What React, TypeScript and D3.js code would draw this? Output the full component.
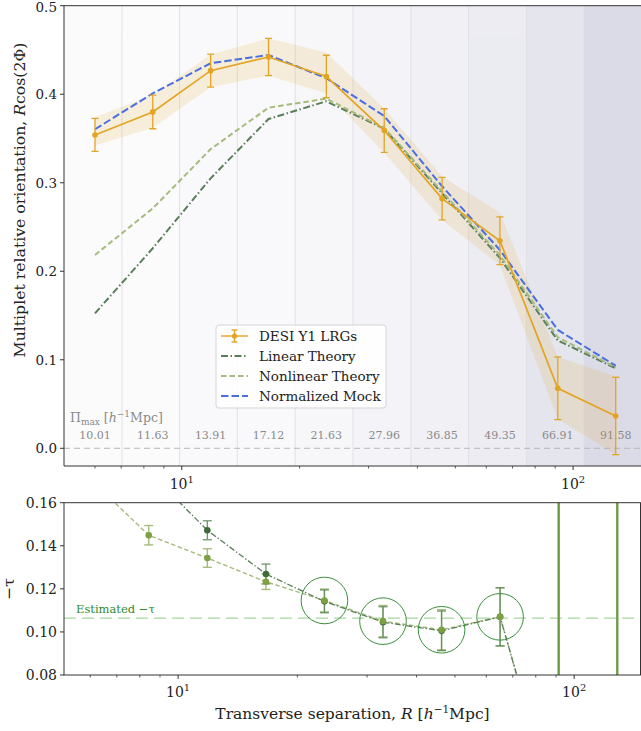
import React from 'react';
import * as d3 from 'd3';

// ---------- data ----------
const R = [6.0, 8.43, 11.85, 16.66, 23.41, 32.91, 46.26, 65.01, 91.39, 128.5];
const binEdges = [5, 7.03, 9.87, 13.87, 19.49, 27.39, 38.49, 54.08, 75.99, 106.76, 150];
const piMaxLabels = ['10.01', '11.63', '13.91', '17.12', '21.63', '27.96', '36.85', '49.35', '66.91', '91.58'];

const desi = [0.354, 0.380, 0.4266, 0.442, 0.420, 0.359, 0.282, 0.2345, 0.0678, 0.0365];
const desiErr = [0.0186, 0.019, 0.0186, 0.021, 0.024, 0.0246, 0.024, 0.027, 0.0354, 0.0437];
const bandLo = [0.342, 0.362, 0.408, 0.421, 0.401, 0.334, 0.258, 0.207, 0.033, -0.007];
const bandHi = [0.374, 0.399, 0.445, 0.463, 0.447, 0.384, 0.307, 0.266, 0.103, 0.081];
const linearTheory = [0.1525, 0.226, 0.305, 0.372, 0.392, 0.361, 0.288, 0.215, 0.1218, 0.0904];
const nonlinearTheory = [0.2184, 0.271, 0.338, 0.3848, 0.395, 0.362, 0.290, 0.218, 0.1254, 0.0915];
const normalizedMock = [0.3604, 0.401, 0.435, 0.4443, 0.418, 0.3754, 0.296, 0.224, 0.1337, 0.0933];

const tauLinear = [0.21, 0.1745, 0.1472, 0.1269, 0.1142, 0.1045, 0.1005, 0.107, 0.012, 0.012];
const tauLinearErr = [0.005, 0.005, 0.0044, 0.0046, 0.0053, 0.0072, 0.0092, 0.0135, 0.3, 0.3];
const tauNonlinear = [0.1709, 0.1449, 0.1343, 0.1233, 0.1146, 0.105, 0.101, 0.107, 0.012, 0.012];
const tauNonlinearErr = [0.005, 0.0045, 0.0043, 0.0036, 0.0053, 0.0073, 0.0093, 0.0135, 0.3, 0.3];
const circledBins = [4, 5, 6, 7];
const estimatedTau = 0.1064;

const topYTicks = [0.0, 0.1, 0.2, 0.3, 0.4, 0.5];
const botYTicks = [0.08, 0.10, 0.12, 0.14, 0.16];
const minorX = [6, 7, 8, 9, 20, 30, 40, 50, 60, 70, 80, 90];
const majorX = [10, 100];

// ---------- colors ----------
const C_DESI = '#e3a424';
const C_LIN = '#5a7e5a';
const C_NONLIN = '#a6bb7d';
const C_MOCK = '#4a6fdf';
const C_BAND = '#5c5c94';
const C_TLIN = '#3f6b3b';
const C_TNON = '#7da042';
const C_CIRCLE = '#3d8f3d';

const FONT = 'DejaVu Serif, serif';

export default function App() {
  const W = 641, H = 731;
  const L = 64, Rt = 641;
  const topT = 5.7, topB = 466;
  const botT = 502.7, botB = 675;

  const xT = d3.scaleLog().domain([5, 150]).range([L, 642]);
  const yT = d3.scaleLinear().domain([-0.02, 0.5]).range([topB, topT]);
  const xB = d3.scaleLog().domain([5.15, 147.5]).range([L, Rt]);
  const yB = d3.scaleLinear().domain([0.08, 0.16]).range([botB, botT]);

  const lineT = (vals: number[]) =>
    d3.line<number>().x((_, i) => xT(R[i])).y((v) => yT(v))(vals) as string;
  const lineB = (vals: number[]) =>
    d3.line<number>().x((_, i) => xB(R[i])).y((v) => yB(v))(vals) as string;
  const bandPath = d3
    .area<number>()
    .x((_, i) => xT(R[i]))
    .y0((_, i) => yT(bandLo[i]))
    .y1((_, i) => yT(bandHi[i]))(R) as string;

  const maxPi = d3.max(piMaxLabels.map(Number)) as number;

  return (
    <svg
      width={W}
      height={H}
      style={{ position: 'absolute', left: 0, top: 0, background: '#fff' }}
      fontFamily={FONT}
    >
      <defs>
        <clipPath id="clipTop">
          <rect x={L} y={topT} width={Rt - L} height={topB - topT} />
        </clipPath>
        <clipPath id="clipBot">
          <rect x={L} y={botT} width={Rt - L} height={botB - botT} />
        </clipPath>
      </defs>

      {/* ---------- TOP PANEL ---------- */}
      <g clipPath="url(#clipTop)">
        {piMaxLabels.map((p, i) => (
          <rect
            key={'bg' + i}
            x={xT(binEdges[i])}
            y={topT}
            width={xT(binEdges[i + 1]) - xT(binEdges[i])}
            height={topB - topT}
            fill={C_BAND}
            opacity={(0.22 * Number(p)) / maxPi}
          />
        ))}
        {binEdges.slice(1, -1).map((e, i) => (
          <line key={'g' + i} x1={xT(e)} x2={xT(e)} y1={topT} y2={topB} stroke="#dcdce2" strokeWidth={0.8} />
        ))}
        <line x1={L} x2={Rt} y1={yT(0)} y2={yT(0)} stroke="#b0b0b0" strokeWidth={0.9} strokeDasharray="6,4" />
        {piMaxLabels.map((p, i) => (
          <text key={'pm' + i} x={xT(R[i])} y={yT(0) - 9} fontSize={11} fill="#8a8a8a" textAnchor="middle">
            {p}
          </text>
        ))}
        <text x={70} y={yT(0) - 26} fontSize={12.5} fill="#8a8a8a">
          Π<tspan fontSize={9} dy={3}>max</tspan>
          <tspan dy={-3}> [</tspan>
          <tspan fontStyle="italic">h</tspan>
          <tspan fontSize={9} dy={-5}>−1</tspan>
          <tspan dy={5}>Mpc]</tspan>
        </text>

        <path d={bandPath} fill={C_DESI} opacity={0.15} stroke={C_DESI} strokeOpacity={0.12} />
        <path d={lineT(linearTheory)} fill="none" stroke={C_LIN} strokeWidth={2} strokeDasharray="7,2.5,1.5,2.5" />
        <path d={lineT(nonlinearTheory)} fill="none" stroke={C_NONLIN} strokeWidth={2} strokeDasharray="5.5,3" />
        <path d={lineT(normalizedMock)} fill="none" stroke={C_MOCK} strokeWidth={2} strokeDasharray="7.5,3" />
        <path d={lineT(desi)} fill="none" stroke={C_DESI} strokeWidth={1.7} />
        {desi.map((v, i) => {
          const x = xT(R[i]);
          const y1 = yT(v - desiErr[i]);
          const y2 = yT(v + desiErr[i]);
          return (
            <g key={'d' + i} stroke={C_DESI} strokeWidth={1.3}>
              <line x1={x} x2={x} y1={y1} y2={y2} />
              <line x1={x - 3.5} x2={x + 3.5} y1={y1} y2={y1} />
              <line x1={x - 3.5} x2={x + 3.5} y1={y2} y2={y2} />
              <circle cx={x} cy={yT(v)} r={2.8} fill={C_DESI} stroke="none" />
            </g>
          );
        })}
      </g>

      {/* legend */}
      <g>
        <rect x={216} y={325} width={170} height={83} rx={3} fill="#fff" fillOpacity={0.85} stroke="#d0d0d0" strokeWidth={0.9} />
        <g stroke={C_DESI} strokeWidth={1.4}>
          <line x1={221} x2={248} y1={336} y2={336} />
          <line x1={234.5} x2={234.5} y1={330} y2={342} />
          <line x1={231.5} x2={237.5} y1={330} y2={330} />
          <line x1={231.5} x2={237.5} y1={342} y2={342} />
          <circle cx={234.5} cy={336} r={2.6} fill={C_DESI} stroke="none" />
        </g>
        <line x1={221} x2={248} y1={356} y2={356} stroke={C_LIN} strokeWidth={2} strokeDasharray="7,2.5,1.5,2.5" />
        <line x1={221} x2={248} y1={376} y2={376} stroke={C_NONLIN} strokeWidth={2} strokeDasharray="5.5,3" />
        <line x1={221} x2={248} y1={396} y2={396} stroke={C_MOCK} strokeWidth={2} strokeDasharray="7.5,3" />
        {['DESI Y1 LRGs', 'Linear Theory', 'Nonlinear Theory', 'Normalized Mock'].map((t, i) => (
          <text key={'lg' + i} x={259} y={341 + i * 20} fontSize={13.5} fill="#222">
            {t}
          </text>
        ))}
      </g>

      {/* top axes frame */}
      <g stroke="#333" strokeWidth={1} fill="none">
        <line x1={L} x2={L} y1={topT} y2={topB} />
        <line x1={L} x2={Rt} y1={topT} y2={topT} />
        <line x1={L} x2={Rt} y1={topB} y2={topB} />
      </g>
      {topYTicks.map((t) => (
        <g key={'ty' + t}>
          <line x1={L - 4} x2={L} y1={yT(t)} y2={yT(t)} stroke="#333" />
          <text x={L - 7} y={Math.max(yT(t) + 4.8, 12)} fontSize={13.5} textAnchor="end" fill="#222">
            {t.toFixed(1)}
          </text>
        </g>
      ))}
      {minorX.map((t) => (
        <line key={'tmx' + t} x1={xT(t)} x2={xT(t)} y1={topB} y2={topB + 2.5} stroke="#333" strokeWidth={0.8} />
      ))}
      {majorX.map((t) => (
        <g key={'tMx' + t}>
          <line x1={xT(t)} x2={xT(t)} y1={topB} y2={topB + 4} stroke="#333" />
          <text x={xT(t)} y={489} fontSize={14} textAnchor="middle" fill="#222">
            10<tspan fontSize={10} dy={-6}>{Math.round(Math.log10(t))}</tspan>
          </text>
        </g>
      ))}
      <text
        transform={`translate(25,200) rotate(-90)`}
        fontSize={15.7}
        textAnchor="middle"
        fill="#222"
      >
        Multiplet relative orientation, <tspan fontStyle="italic">R</tspan>cos(2Φ)
      </text>

      {/* ---------- BOTTOM PANEL ---------- */}
      <g clipPath="url(#clipBot)">
        <line x1={L} x2={Rt} y1={yB(estimatedTau)} y2={yB(estimatedTau)} stroke="#a6d6a0" strokeWidth={1.3} strokeDasharray="12,6" />
        <path d={lineB(tauNonlinear)} fill="none" stroke={C_NONLIN} strokeWidth={1.4} strokeDasharray="4.5,2.5" />
        <path d={lineB(tauLinear)} fill="none" stroke={C_LIN} strokeWidth={1.3} strokeDasharray="6,2,1.5,2" />
        {tauNonlinear.map((v, i) => {
          const x = xB(R[i]);
          const y1 = yB(v - tauNonlinearErr[i]);
          const y2 = yB(v + tauNonlinearErr[i]);
          const big = tauNonlinearErr[i] > 0.1;
          return (
            <g key={'tn' + i} stroke={big ? '#6f9a45' : C_NONLIN} strokeWidth={big ? 2 : 1.4}>
              <line x1={x} x2={x} y1={y1} y2={y2} />
              <line x1={x - 4.5} x2={x + 4.5} y1={y1} y2={y1} />
              <line x1={x - 4.5} x2={x + 4.5} y1={y2} y2={y2} />
            </g>
          );
        })}
        {tauLinear.map((v, i) => {
          const x = xB(R[i]);
          const y1 = yB(v - tauLinearErr[i]);
          const y2 = yB(v + tauLinearErr[i]);
          const big = tauLinearErr[i] > 0.1;
          return (
            <g key={'tl' + i} stroke={big ? '#6f9a45' : '#5f8a5a'} strokeWidth={big ? 2 : 1.3} opacity={0.9}>
              <line x1={x} x2={x} y1={y1} y2={y2} />
              <line x1={x - 4.5} x2={x + 4.5} y1={y1} y2={y1} />
              <line x1={x - 4.5} x2={x + 4.5} y1={y2} y2={y2} />
            </g>
          );
        })}
        {tauLinear.map((v, i) => (
          <circle key={'tlc' + i} cx={xB(R[i])} cy={yB(v)} r={3.3} fill={C_TLIN} />
        ))}
        {tauNonlinear.map((v, i) => (
          <circle key={'tnc' + i} cx={xB(R[i])} cy={yB(v)} r={3.3} fill={C_TNON} />
        ))}
        {circledBins.map((b) => (
          <circle key={'cb' + b} cx={xB(R[b])} cy={yB(tauNonlinear[b])} r={23.3} fill="none" stroke={C_CIRCLE} strokeWidth={1} />
        ))}
        <text x={76} y={yB(estimatedTau) - 5} fontSize={11.5} fill="#2f8a2f">
          Estimated −τ
        </text>
      </g>
      <rect x={L} y={botT} width={Rt - L - 0.5} height={botB - botT} fill="none" stroke="#333" strokeWidth={1} />
      {botYTicks.map((t) => (
        <g key={'by' + t}>
          <line x1={L - 4} x2={L} y1={yB(t)} y2={yB(t)} stroke="#333" />
          <text x={L - 7} y={yB(t) + 5} fontSize={14} textAnchor="end" fill="#222">
            {t.toFixed(2)}
          </text>
        </g>
      ))}
      {minorX.map((t) => (
        <line key={'bmx' + t} x1={xB(t)} x2={xB(t)} y1={botB} y2={botB + 2.5} stroke="#333" strokeWidth={0.8} />
      ))}
      {majorX.map((t) => (
        <g key={'bMx' + t}>
          <line x1={xB(t)} x2={xB(t)} y1={botB} y2={botB + 4} stroke="#333" />
          <text x={xB(t)} y={697} fontSize={14} textAnchor="middle" fill="#222">
            10<tspan fontSize={10} dy={-6}>{Math.round(Math.log10(t))}</tspan>
          </text>
        </g>
      ))}
      <text transform={`translate(14,${(botT + botB) / 2}) rotate(-90)`} fontSize={15.5} textAnchor="middle" fill="#222">
        −τ
      </text>
      <text x={(L + Rt) / 2} y={719} fontSize={15.5} textAnchor="middle" fill="#222">
        Transverse separation, <tspan fontStyle="italic">R</tspan> [<tspan fontStyle="italic">h</tspan>
        <tspan fontSize={10.5} dy={-6}>−1</tspan>
        <tspan dy={6}>Mpc]</tspan>
      </text>
    </svg>
  );
}
